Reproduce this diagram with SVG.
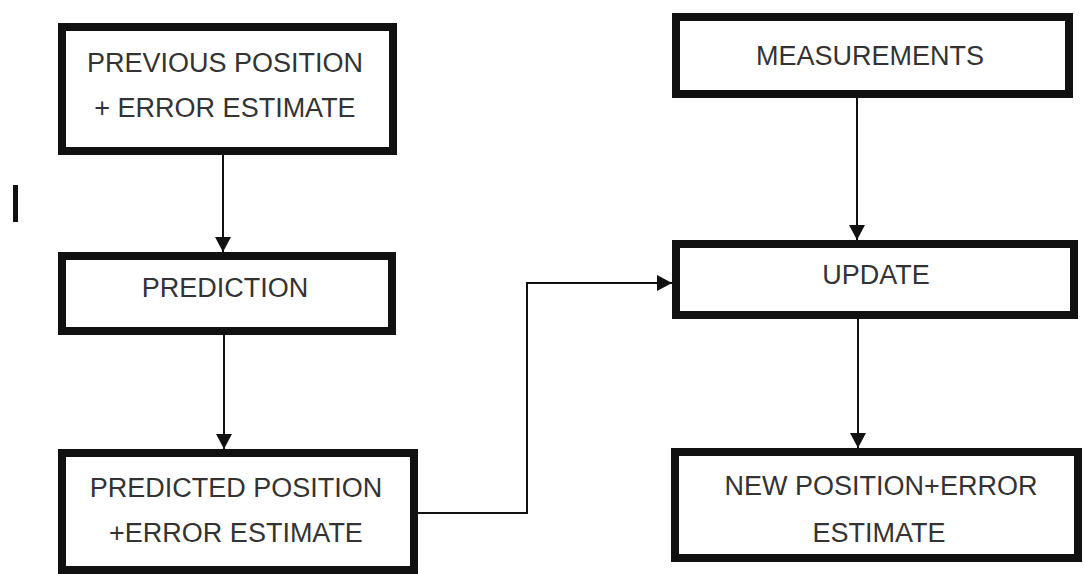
<svg xmlns="http://www.w3.org/2000/svg" width="1084" height="574" viewBox="0 0 1084 574">
<style>
.box{fill:#fff;stroke:#111;stroke-width:8}
.lbl{font-family:"Liberation Sans",Arial,sans-serif;font-size:27px;fill:#333;text-anchor:middle}
.con{fill:none;stroke:#111;stroke-width:2}
</style>
<defs>
<marker id="arr" markerUnits="userSpaceOnUse" markerWidth="16" markerHeight="16" refX="15" refY="8" orient="auto">
<path d="M0,0 L15,8 L0,16 Z" fill="#111"/>
</marker>
</defs>
<rect width="1084" height="574" fill="#fff"/>
<g id="connectors">
<line class="con" x1="223" y1="155" x2="223" y2="252" marker-end="url(#arr)"/>
<line class="con" x1="224" y1="335" x2="224" y2="449" marker-end="url(#arr)"/>
<line class="con" x1="857" y1="98" x2="857" y2="240" marker-end="url(#arr)"/>
<line class="con" x1="858" y1="319" x2="858" y2="448" marker-end="url(#arr)"/>
<path class="con" d="M418 513 H527 V283 H672" marker-end="url(#arr)"/>
</g>
<g id="previous">
<rect class="box" x="62" y="27" width="331" height="124"/>
<text class="lbl" x="225" y="72">PREVIOUS POSITION</text>
<text class="lbl" x="225" y="117">+ ERROR ESTIMATE</text>
</g>
<g id="prediction">
<rect class="box" x="62" y="256" width="330" height="75"/>
<text class="lbl" x="225" y="297">PREDICTION</text>
</g>
<g id="predicted">
<rect class="box" x="62" y="453" width="352" height="117"/>
<text class="lbl" x="236" y="497">PREDICTED POSITION</text>
<text class="lbl" x="236" y="542">+ERROR ESTIMATE</text>
</g>
<g id="measurements">
<rect class="box" x="676" y="17" width="393" height="77"/>
<text class="lbl" x="870" y="65">MEASUREMENTS</text>
</g>
<g id="update">
<rect class="box" x="676" y="244" width="398" height="71"/>
<text class="lbl" x="876" y="284">UPDATE</text>
</g>
<g id="newpos">
<rect class="box" x="675" y="452" width="403" height="106"/>
<text class="lbl" x="881" y="495">NEW POSITION+ERROR</text>
<text class="lbl" x="879" y="542">ESTIMATE</text>
</g>
<text x="8" y="222" style="font-family:'Liberation Sans',Arial,sans-serif;font-size:54px;fill:#111">I</text>
</svg>
